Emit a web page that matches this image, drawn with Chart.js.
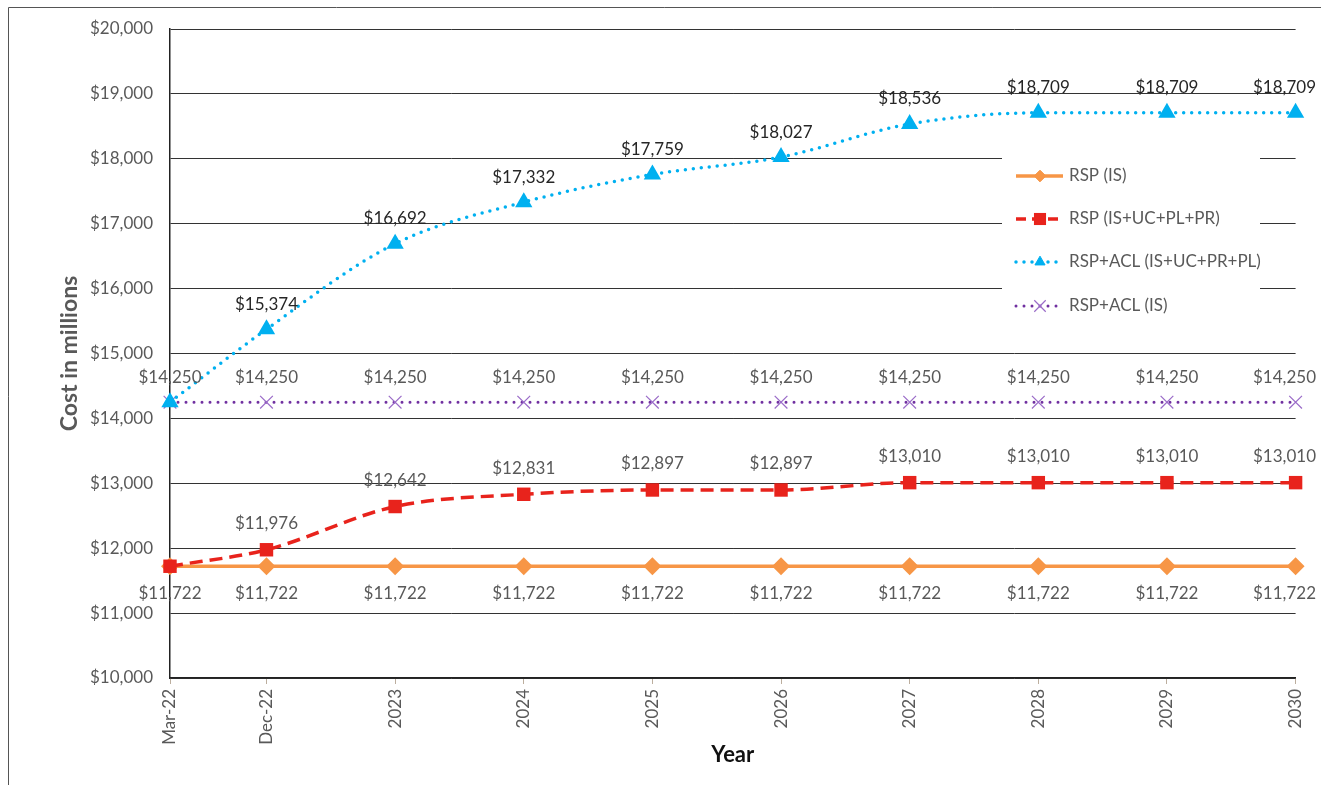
<!DOCTYPE html>
<html>
<head>
<meta charset="utf-8">
<script src="https://cdn.jsdelivr.net/npm/chart.js@4"></script>
<style>
  html, body { margin: 0; padding: 0; background: #fff; }
  #wrap { width: 1321px; height: 785px; }
</style>
</head>
<body>
<div id="wrap"><canvas id="myChart" width="1321" height="785"></canvas></div>
<script>
// data
const xLabels = ['Mar-22', 'Dec-22', '2023', '2024', '2025', '2026', '2027', '2028', '2029', '2030'];
const xPos = [0, 0.75, 1.75, 2.75, 3.75, 4.75, 5.75, 6.75, 7.75, 8.75];
const rspIS = [11722, 11722, 11722, 11722, 11722, 11722, 11722, 11722, 11722, 11722];
const rspAll = [11722, 11976, 12642, 12831, 12897, 12897, 13010, 13010, 13010, 13010];
const aclAll = [14250, 15374, 16692, 17332, 17759, 18027, 18536, 18709, 18709, 18709];
const aclIS = [14250, 14250, 14250, 14250, 14250, 14250, 14250, 14250, 14250, 14250];
const yTicks = [10000, 11000, 12000, 13000, 14000, 15000, 16000, 17000, 18000, 19000, 20000];

const FONT = 'Lato, "Liberation Sans", sans-serif';
const money = v => '$' + Number(v).toLocaleString('en-US');
const pts = arr => arr.map((v, i) => ({ x: xPos[i], y: v }));

// label offset (px) and which points get a label
const labelCfg = [
  { dy: 27, skip: [], color: '#595959' },
  { dy: -26, skip: [0], color: '#595959' },
  { dy: -25, skip: [0], color: '#262626' },
  { dy: -25, skip: [], color: '#595959' }
];

const datasets = [
  {
    label: 'RSP (IS)', data: pts(rspIS),
    borderColor: '#F79646', backgroundColor: '#F79646', borderWidth: 3.5,
    pointStyle: 'rectRot', pointRadius: 6.5, clip: false, order: 4
  },
  {
    label: 'RSP (IS+UC+PL+PR)', data: pts(rspAll),
    borderColor: '#E8231C', backgroundColor: '#E8231C', borderWidth: 3.5,
    borderDash: [13, 7], cubicInterpolationMode: 'monotone',
    pointStyle: 'rect', pointRadius: 9.5, pointBorderWidth: 0, clip: false, order: 3
  },
  {
    label: 'RSP+ACL (IS+UC+PR+PL)', data: pts(aclAll),
    borderColor: '#00B0F0', backgroundColor: '#00B0F0', borderWidth: 3.5,
    borderDash: [0, 8], borderCapStyle: 'round', cubicInterpolationMode: 'monotone',
    pointStyle: 'triangle', pointRadius: 6.5, clip: false, order: 1
  },
  {
    label: 'RSP+ACL (IS)', data: pts(aclIS),
    borderColor: '#7030A0', backgroundColor: '#9A6BC8', borderWidth: 3,
    borderDash: [0, 8], borderCapStyle: 'round',
    pointStyle: 'crossRot', pointRadius: 9, pointBorderColor: '#9A6BC8', pointBorderWidth: 1.2,
    clip: false, order: 2
  }
];

// frame around the chart
const framePlugin = {
  id: 'frame',
  beforeDraw(chart) {
    const ctx = chart.ctx;
    ctx.save();
    ctx.fillStyle = '#fff';
    ctx.fillRect(0, 0, chart.width, chart.height);
    ctx.strokeStyle = '#555';
    ctx.lineWidth = 1;
    ctx.beginPath();
    ctx.moveTo(8.5, chart.height);
    ctx.lineTo(8.5, 7.5);
    ctx.lineTo(chart.width, 7.5);
    ctx.stroke();
    ctx.restore();
  }
};

// value labels
const labelPlugin = {
  id: 'valueLabels',
  afterDatasetsDraw(chart) {
    const ctx = chart.ctx;
    ctx.save();
    ctx.font = '17px ' + FONT;
    ctx.textAlign = 'center';
    ctx.textBaseline = 'middle';
    chart.data.datasets.forEach((ds, i) => {
      const cfg = labelCfg[i];
      const meta = chart.getDatasetMeta(i);
      meta.data.forEach((p, j) => {
        if (cfg.skip.includes(j)) return;
        const txt = money(ds.data[j].y);
        const half = ctx.measureText(txt).width / 2;
        const x = Math.min(p.x, chart.width - 5 - half);
        ctx.fillStyle = cfg.color;
        ctx.fillText(txt, x, p.y + cfg.dy);
      });
    });
    ctx.restore();
  }
};

// legend box inside the plot
const legendPlugin = {
  id: 'boxLegend',
  afterDraw(chart) {
    const ctx = chart.ctx;
    const x0 = 1002, y0 = 152, w = 258, h = 176;
    ctx.save();
    ctx.fillStyle = '#fff';
    ctx.fillRect(x0, y0, w, h);
    const rows = [176, 219, 262, 306];
    chart.data.datasets.forEach((ds, i) => {
      const y = rows[i];
      ctx.save();
      ctx.strokeStyle = ds.borderColor;
      ctx.lineWidth = ds.borderWidth;
      ctx.lineCap = ds.borderCapStyle || 'butt';
      ctx.setLineDash(ds.borderDash ? (i === 1 ? [10, 6] : ds.borderDash) : []);
      ctx.beginPath();
      ctx.moveTo(1016, y);
      ctx.lineTo(1063, y);
      ctx.stroke();
      ctx.restore();
      ctx.save();
      ctx.fillStyle = ds.backgroundColor;
      ctx.strokeStyle = ds.pointBorderColor || ds.backgroundColor;
      ctx.lineWidth = ds.pointBorderWidth === undefined ? 1 : ds.pointBorderWidth;
      Chart.helpers.drawPoint(ctx, {
        pointStyle: ds.pointStyle,
        radius: ds.pointRadius * 0.9,
        rotation: 0,
        borderWidth: ds.pointBorderWidth === undefined ? 1 : ds.pointBorderWidth
      }, 1040, y);
      ctx.restore();
      ctx.fillStyle = '#595959';
      ctx.font = '17px ' + FONT;
      ctx.textAlign = 'left';
      ctx.textBaseline = 'middle';
      ctx.fillText(ds.label, 1069, y);
    });
    ctx.restore();
  }
};

const config = {
  type: 'line',
  data: { datasets: datasets },
  options: {
    responsive: false,
    animation: false,
    layout: { padding: { left: 8, top: 29, right: 21, bottom: 0 } },
    plugins: {
      legend: { display: false },
      tooltip: { enabled: false }
    },
    scales: {
      x: {
        type: 'linear',
        min: 0,
        max: 8.75,
        afterBuildTicks: scale => { scale.ticks = xPos.map(v => ({ value: v })); },
        afterFit: scale => { scale.height = 107; },
        grid: { display: true, drawOnChartArea: false, drawTicks: true, tickLength: 6, color: '#BCAE9E' },
        border: { display: true, color: '#222', width: 1.5 },
        ticks: {
          callback: (v, i) => xLabels[i],
          minRotation: 90, maxRotation: 90,
          padding: 5,
          color: '#595959',
          font: { family: FONT, size: 17 }
        },
        title: {
          display: true, text: 'Year', color: '#111',
          font: { family: FONT, size: 22, weight: 'bold' },
          padding: { top: 0, bottom: 17 }
        }
      },
      y: {
        min: 10000,
        max: 20000,
        afterBuildTicks: scale => { scale.ticks = yTicks.map(v => ({ value: v })); },
        afterFit: scale => { scale.width = 162; },
        grid: { color: '#333', lineWidth: 1, drawTicks: false },
        border: { display: true, color: '#222', width: 1.5 },
        ticks: {
          callback: v => money(v),
          padding: 17,
          color: '#595959',
          font: { family: FONT, size: 17 }
        },
        title: {
          display: true, text: 'Cost in millions', color: '#595959',
          font: { family: FONT, size: 23, weight: 'bold' },
          padding: { top: 48, bottom: 0 }
        }
      }
    }
  },
  plugins: [framePlugin, labelPlugin, legendPlugin]
};

window.myChart = new Chart(document.getElementById('myChart'), config);
</script>
</body>
</html>
